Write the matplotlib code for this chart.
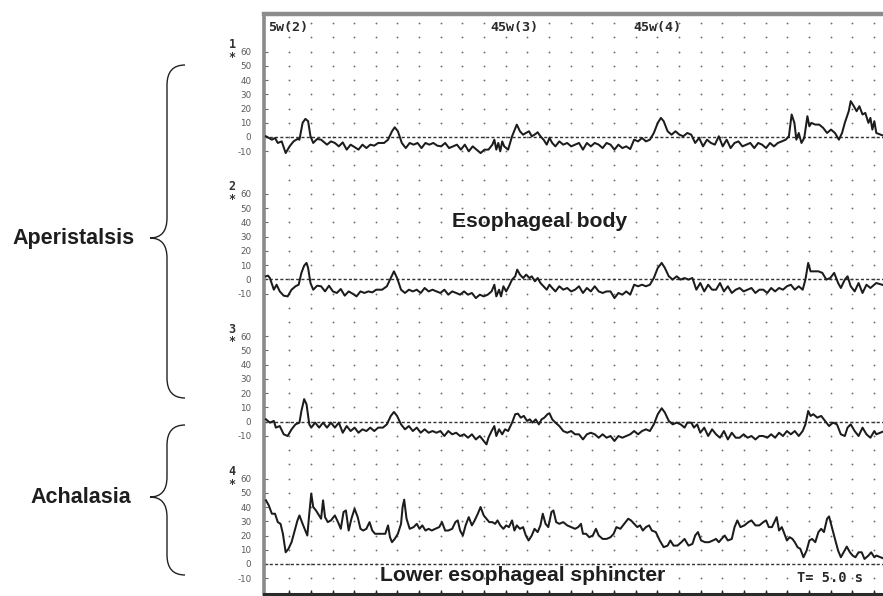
import numpy as np
import matplotlib
matplotlib.use("Agg")
import matplotlib.pyplot as plt
from matplotlib.path import Path
from matplotlib.patches import PathPatch
from matplotlib.transforms import blended_transform_factory

# ---------------- data (time in recorder units, pressure in mmHg) ----------------
t1 = [0, 1.5, 2.3, 3.0, 4.0, 5.0, 6.0, 7.0, 8.0, 8.5, 9.3, 10.0, 10.7, 11.3, 12.0, 13.0, 14.0, 14.5,
      15.5, 16.5, 17.5, 18.5, 19.5, 20.5, 21.5, 22.5, 23.5, 24.5, 25.5, 26.5, 27.5, 28.5, 30.0, 31.0,
      32.0, 32.7, 33.5, 34.5, 35.5, 36.5, 37.5, 38.5, 39.5, 40.5, 41.5, 42.5, 43.5, 44.5, 45.5, 46.5,
      47.5, 48.5, 49.5, 50.5, 51.5, 52.5, 53.5, 54.5, 55.5, 56.5, 57.5, 58.0, 58.5, 59.0, 59.5, 60.0,
      60.5, 61.5, 62.5, 63.0, 63.7, 64.5, 65.3, 66.0, 66.8, 67.5, 68.2, 69.0, 69.7, 70.5, 71.3, 72.0,
      72.7, 73.5, 74.5, 75.5, 76.5, 77.5, 78.5, 79.5, 80.5, 81.5, 82.5, 83.5, 84.5, 85.5, 86.5, 87.5,
      88.5, 89.5, 90.5, 91.5, 92.5, 93.5, 94.5, 95.5, 96.5, 97.5, 98.5, 99.5, 100.3, 101.0, 102.0,
      103.0, 104.0, 105.0, 106.0, 107.0, 108.0, 109.0, 110.0, 111.0, 112.0, 113.0, 114.0, 115.0,
      116.0, 117.0, 118.0, 119.0, 120.0, 121.0, 122.0, 123.0, 124.0, 125.0, 126.0, 127.0, 128.0,
      129.0, 130.0, 131.0, 132.0, 132.8, 133.5, 134.2, 134.7, 135.3, 136.0, 136.7, 137.5, 138.0,
      138.5, 139.5, 140.5, 141.5, 142.5, 143.5, 144.5, 145.5, 146.3, 147.0, 148.0, 148.5, 149.3,
      150.0, 150.7, 151.5, 152.2, 153.0, 153.5, 154.0, 154.5, 155.0, 156.7]
p1 = [0.5, -1.9, -0.7, -4.2, -3.1, -11.3, -6.6, -3.1, -1.4, -1.9, 9.9, 12.7, 11.1, 0.5, -4.2, -1.4,
      -1.9, -3.1, -5.4, -3.1, -4.2, -6.6, -3.8, -8.9, -5.4, -7.1, -8.9, -5.4, -7.8, -5.4, -6.1, -4.2,
      -4.2, -1.9, 4.0, 6.8, 4.0, -4.2, -7.8, -4.2, -5.4, -4.2, -7.8, -4.2, -5.4, -4.2, -6.1, -6.6,
      -4.2, -7.8, -6.6, -5.4, -8.9, -5.4, -10.1, -6.6, -8.9, -11.3, -8.9, -8.9, -5.4, -1.9, -8.9,
      -4.2, -10.1, -3.1, -6.6, -8.9, 0.5, 4.0, 8.7, 4.0, 1.6, 2.8, 4.0, 0.5, 1.6, 3.3, 0.5, -1.9,
      -5.4, -0.7, -4.2, -6.6, -3.1, -5.4, -4.2, -6.6, -5.4, -4.2, -8.9, -4.2, -6.6, -4.2, -5.4, -7.8,
      -4.2, -5.4, -8.9, -5.4, -7.8, -6.6, -8.5, -1.9, -3.1, -0.7, -3.1, -1.9, 2.8, 9.9, 13.4, 11.1,
      4.0, 1.6, 4.0, 1.6, 0.5, 2.8, 1.6, -4.2, -0.7, -6.6, -1.9, -4.2, -5.4, 0.5, -6.6, -1.9, -7.8,
      -4.2, -3.1, -6.6, -5.4, -4.2, -7.8, -4.2, -5.4, -7.8, -4.2, -6.6, -4.2, -3.1, -1.9, 0.5, 15.8,
      9.9, -1.9, 2.8, -4.2, -0.7, 14.6, 7.5, 9.9, 8.7, 8.7, 6.4, 2.8, 5.2, 2.8, -1.9, 2.8, 9.9, 18.1,
      25.2, 21.6, 18.1, 21.6, 15.8, 16.9, 9.9, 13.4, 5.2, 11.1, 2.8, 1.0]

t2 = [0, 0.5, 1.0, 2.0, 2.7, 3.5, 4.5, 5.5, 6.5, 7.5, 8.3, 9.0, 9.7, 10.3, 10.7, 11.3, 12.0, 13.0,
      14.0, 15.0, 16.0, 17.0, 18.0, 19.0, 20.0, 21.0, 22.0, 23.0, 24.0, 25.0, 26.0, 27.0, 28.0, 29.5,
      30.7, 31.7, 32.5, 33.3, 34.3, 35.3, 36.3, 37.3, 38.3, 39.3, 40.3, 41.3, 42.3, 43.3, 44.3, 45.3,
      46.3, 47.3, 48.3, 49.3, 50.3, 51.3, 52.3, 53.3, 54.3, 55.3, 56.3, 57.3, 58.0, 58.5, 59.2, 59.7,
      60.3, 61.0, 61.7, 62.5, 63.3, 63.8, 64.5, 65.3, 66.1, 66.9, 67.5, 68.3, 69.0, 69.7, 70.5, 71.3,
      72.0, 72.7, 73.5, 74.5, 75.5, 76.5, 77.5, 78.5, 79.5, 80.5, 81.5, 82.5, 83.5, 84.5, 85.5, 86.5,
      87.5, 88.5, 89.5, 90.5, 91.5, 92.5, 93.5, 94.5, 95.5, 96.5, 97.5, 98.5, 99.5, 100.5, 101.3,
      102.3, 103.3, 104.3, 105.3, 106.3, 107.3, 108.3, 109.3, 110.3, 111.3, 112.3, 113.3, 114.3,
      115.3, 116.3, 117.3, 118.3, 119.3, 120.3, 121.3, 122.3, 123.3, 124.3, 125.3, 126.3, 127.3,
      128.3, 129.3, 130.3, 131.3, 132.3, 133.3, 134.3, 135.3, 136.3, 137.0, 137.7, 138.3, 139.3,
      140.3, 141.3, 142.3, 143.3, 144.3, 145.3, 146.0, 147.0, 147.7, 148.5, 149.5, 150.5, 151.5,
      152.5, 153.5, 154.5, 155.0, 156.7]
p2 = [2.1, 2.6, 0.9, -7.3, -3.8, -8.5, -11.5, -12.0, -7.3, -4.9, -3.8, 4.5, 9.6, 11.5, 8.0, -2.6,
      -7.3, -4.5, -4.9, -8.5, -4.5, -8.5, -9.6, -6.8, -11.5, -8.5, -10.1, -12.0, -8.5, -9.6, -8.5,
      -9.2, -7.3, -7.3, -4.9, 0.9, 5.6, 0.9, -7.3, -9.6, -7.3, -8.5, -7.3, -9.6, -6.1, -8.5, -7.3,
      -8.5, -9.6, -7.3, -10.8, -8.5, -9.6, -10.8, -8.5, -10.8, -9.6, -13.2, -10.8, -12.0, -10.8, -8.5,
      -3.8, -12.0, -7.3, -12.0, -4.9, -8.5, -4.9, -0.2, 2.1, 6.8, 3.3, 0.9, 3.3, 0.9, 2.1, -1.4, 0.9,
      -2.6, -4.9, -7.3, -3.8, -6.1, -8.5, -4.9, -7.3, -6.1, -8.5, -7.3, -4.9, -9.6, -6.1, -8.5, -4.9,
      -8.5, -9.6, -8.5, -8.5, -13.2, -9.6, -10.8, -8.5, -10.8, -3.8, -4.9, -3.8, -4.9, -3.8, 0.9, 8.0,
      11.5, 8.0, 2.1, -0.2, 2.1, -0.2, 0.9, -0.2, 0.9, -7.3, -2.6, -8.5, -3.8, -7.3, -7.3, -2.6,
      -8.5, -4.9, -9.6, -7.3, -6.1, -8.5, -7.3, -6.1, -9.6, -7.3, -7.3, -9.6, -6.1, -8.5, -6.1, -7.3,
      -4.9, -3.8, -7.3, -4.9, -7.3, -0.2, 11.5, 5.6, 5.6, 5.6, 4.5, -0.2, 0.9, 4.5, -2.6, -6.1, -0.2,
      2.1, -4.9, -8.5, -2.6, -9.6, -3.8, -6.1, -3.8, -2.6, -4.0]

t3 = [0, 1.0, 2.0, 2.5, 3.5, 4.5, 5.5, 6.5, 7.5, 8.5, 9.0, 9.7, 10.3, 11.0, 11.5, 12.5, 13.5, 14.5,
      15.5, 16.5, 17.5, 18.5, 19.5, 20.5, 21.5, 22.5, 23.5, 24.5, 25.5, 26.5, 27.5, 28.5, 29.7, 30.7,
      31.7, 32.5, 33.3, 34.3, 35.3, 36.3, 37.3, 38.3, 39.3, 40.3, 41.3, 42.3, 43.3, 44.3, 45.3, 46.3,
      47.3, 48.3, 49.3, 50.3, 51.3, 52.3, 53.3, 54.3, 55.3, 56.0, 56.5, 57.3, 58.0, 58.5, 59.2, 60.0,
      60.7, 61.5, 62.5, 63.3, 64.0, 64.7, 65.5, 66.3, 67.0, 67.7, 68.5, 69.3, 70.0, 70.7, 71.5, 72.0,
      72.7, 73.5, 74.5, 75.5, 76.5, 77.5, 78.5, 79.5, 80.5, 81.5, 82.5, 83.5, 84.5, 85.5, 86.5, 87.5,
      88.5, 89.5, 90.5, 91.5, 92.5, 93.5, 94.5, 95.5, 96.5, 97.5, 98.5, 99.5, 100.5, 101.3, 102.3,
      103.3, 104.3, 105.3, 106.3, 107.0, 108.0, 108.7, 109.5, 110.3, 111.3, 112.3, 113.3, 114.3,
      115.3, 116.3, 117.3, 118.3, 119.3, 120.3, 121.3, 122.3, 123.3, 124.3, 125.3, 126.3, 127.3,
      128.3, 129.3, 130.3, 131.3, 132.3, 133.3, 134.3, 135.3, 136.3, 137.0, 137.7, 138.3, 139.0,
      140.0, 141.0, 142.0, 143.0, 144.0, 145.0, 146.0, 147.0, 147.7, 148.5, 149.5, 150.5, 151.5,
      152.5, 153.5, 154.5, 155.0, 156.7]
p3 = [1.6, -0.7, 0.5, -4.2, -3.1, -8.9, -10.1, -5.4, -1.9, -0.7, 7.5, 15.8, 12.2, -1.9, -4.2, -0.7,
      -4.2, -0.7, -4.2, -0.7, -4.2, -0.7, -7.8, -3.1, -6.6, -4.2, -7.8, -5.4, -6.6, -4.2, -6.6, -4.2,
      -4.2, -1.9, 4.0, 6.8, 4.0, -1.9, -5.4, -3.1, -6.6, -4.2, -7.8, -5.4, -7.8, -6.6, -7.8, -6.6,
      -10.1, -6.6, -8.9, -7.8, -10.1, -8.9, -11.3, -8.9, -12.5, -10.1, -13.6, -16.0, -11.3, -6.6,
      -3.1, -10.1, -5.4, -8.9, -5.4, -6.6, -0.7, 5.2, 5.6, 2.8, 4.0, 0.5, 1.6, -0.7, 1.6, -1.9, 1.6,
      2.8, 5.2, 5.9, 1.6, -0.7, -3.1, -6.6, -7.8, -6.6, -8.9, -8.9, -12.5, -8.9, -7.8, -8.9, -11.3,
      -8.9, -11.3, -10.1, -13.6, -10.1, -11.3, -10.1, -8.9, -6.6, -8.9, -6.6, -5.4, -6.6, -1.9, 5.2,
      9.4, 6.4, 0.5, -1.9, -0.7, -1.9, -4.2, -0.7, -0.7, -4.2, -1.9, -7.8, -4.2, -10.1, -5.4, -8.9,
      -11.3, -6.6, -12.5, -7.8, -11.3, -11.3, -8.9, -11.3, -10.1, -12.5, -10.1, -10.1, -11.3, -8.9,
      -11.3, -7.8, -10.1, -6.6, -8.9, -6.6, -10.1, -6.6, -1.9, 7.5, 4.0, 5.2, 2.8, 4.0, 0.5, -3.1,
      -0.7, -1.9, -8.9, -10.1, -4.2, -1.9, -6.6, -10.1, -4.2, -8.9, -11.3, -6.6, -8.9, -7.0]

t4 = [0, 0.7, 1.5, 2.3, 3.0, 3.7, 4.3, 5.0, 5.7, 6.5, 7.3, 8.0, 8.5, 9.3, 10.0, 10.5, 11.0, 11.5,
      12.0, 12.7, 13.5, 14.0, 14.5, 15.0, 15.7, 16.5, 17.5, 18.3, 19.0, 19.7, 20.3, 21.0, 21.7, 22.5,
      23.3, 24.0, 24.7, 25.5, 26.3, 27.0, 27.7, 28.5, 29.5, 30.3, 31.0, 31.5, 32.0, 32.7, 33.5, 34.3,
      34.7, 35.1, 35.7, 36.5, 37.5, 38.3, 39.0, 39.7, 40.5, 41.3, 42.1, 43.0, 44.0, 44.7, 45.5, 46.3,
      47.3, 48.1, 48.7, 49.3, 50.0, 50.7, 51.5, 52.3, 53.0, 53.8, 54.5, 55.3, 56.0, 56.7, 57.5, 58.2,
      58.8, 59.5, 60.3, 61.0, 61.7, 62.5, 63.1, 63.7, 64.5, 65.3, 66.0, 66.7, 67.5, 68.2, 69.0, 69.7,
      70.3, 71.0, 71.7, 72.5, 73.0, 73.7, 74.5, 75.5, 76.5, 77.5, 78.5, 79.3, 80.0, 80.5, 81.3, 82.1,
      83.0, 83.8, 84.5, 85.5, 86.5, 87.5, 88.3, 89.0, 90.0, 91.0, 92.0, 92.7, 93.5, 94.3, 95.0, 95.7,
      96.5, 97.3, 98.0, 99.0, 100.0, 101.0, 102.0, 102.7, 103.5, 104.5, 105.5, 106.3, 107.3, 108.3,
      109.0, 109.7, 110.5, 111.5, 112.5, 113.5, 114.3, 115.0, 115.7, 116.5, 117.3, 118.3, 119.0,
      119.7, 120.5, 121.5, 122.5, 123.3, 124.3, 125.3, 126.3, 127.0, 127.7, 128.5, 129.3, 129.7,
      130.3, 131.0, 131.5, 132.3, 133.0, 133.7, 134.3, 135.0, 135.7, 136.5, 137.3, 138.0, 138.7,
      139.5, 140.3, 141.0, 141.7, 142.5, 143.0, 143.7, 144.5, 145.3, 146.0, 146.7, 147.5, 148.3,
      149.0, 149.7, 150.5, 151.3, 152.0, 153.0, 153.7, 154.5, 155.0, 156.7]
p4 = [44.7, 41.2, 35.3, 35.3, 29.4, 28.2, 21.2, 8.2, 10.6, 15.3, 23.5, 30.6, 34.1, 28.2, 23.5, 20.0,
      35.3, 49.4, 40.0, 37.6, 34.1, 31.8, 44.7, 32.9, 29.4, 30.6, 34.1, 29.4, 24.7, 36.5, 37.6, 23.5,
      31.8, 38.8, 32.9, 24.7, 23.5, 24.7, 29.4, 23.5, 21.2, 21.2, 21.2, 21.2, 27.1, 18.8, 15.3, 17.6,
      21.2, 28.2, 40.0, 45.2, 31.8, 24.7, 25.9, 28.2, 24.7, 27.1, 23.5, 24.7, 23.5, 24.7, 25.9, 29.4,
      23.5, 23.5, 24.7, 29.4, 30.6, 23.5, 20.0, 27.1, 32.9, 27.1, 30.6, 35.3, 40.0, 34.1, 31.8, 29.4,
      29.4, 28.2, 30.6, 27.1, 24.7, 27.1, 25.9, 30.6, 23.5, 27.1, 24.7, 25.9, 20.0, 16.5, 20.0, 24.7,
      22.4, 27.1, 35.3, 28.2, 25.9, 36.5, 37.6, 29.4, 28.2, 29.4, 27.1, 25.9, 24.7, 25.9, 28.2, 21.2,
      21.2, 18.8, 20.0, 24.7, 20.0, 17.6, 17.6, 18.8, 21.2, 25.9, 24.7, 28.2, 31.8, 30.6, 28.2, 25.9,
      27.1, 23.5, 25.9, 27.1, 23.5, 22.4, 16.5, 11.8, 12.9, 16.5, 12.9, 12.9, 15.3, 17.6, 12.9, 14.1,
      20.0, 22.4, 16.5, 15.3, 15.3, 16.5, 17.6, 15.3, 17.6, 20.0, 16.5, 17.6, 25.9, 30.6, 25.9, 27.1,
      29.4, 30.6, 27.1, 27.1, 29.4, 30.6, 25.9, 25.9, 30.6, 32.9, 23.5, 25.9, 22.4, 16.5, 18.8, 17.6,
      15.3, 11.8, 10.6, 4.7, 9.4, 16.5, 17.6, 15.3, 22.4, 24.7, 22.4, 31.8, 33.4, 25.9, 17.6, 9.4,
      4.7, 8.2, 12.2, 8.2, 5.9, 4.7, 8.2, 8.2, 3.5, 5.9, 8.2, 4.7, 5.9, 4.0]

channel_names = ["1", "2", "3", "4"]
channel_offsets = [0, -100, -200, -300]
tick_values = [60, 50, 40, 30, 20, 10, 0, -10]
top_labels = ["5w(2)", "45w(3)", "45w(4)"]
times = [t1, t2, t3, t4]
pressures = [p1, p2, p3, p4]

# ---------------- figure ----------------
W, H = 883, 596
fig = plt.figure(figsize=(W / 100, H / 100), dpi=100)
fig.patch.set_facecolor("white")


def fx(px):
    return px / W


def fy(py):
    return 1 - py / H


ax = fig.add_axes([fx(264), fy(594), fx(883) - fx(264), fy(14) - fy(594)])
ax.set_xlim(-0.5, 156.7)
ax.set_ylim(-321.1, 86.4)

# dotted grid
gx = np.arange(5.9, 156.7, 5.5)
gy = np.arange(-320, 81, 10)
GX, GY = np.meshgrid(gx, gy)
ax.scatter(GX.ravel(), GY.ravel(), s=1.8, color="#707070", linewidths=0, zorder=1)

# baselines and traces
for t, p, off in zip(times, pressures, channel_offsets):
    ax.axhline(off, color="#333333", lw=1.0, ls=(0, (2.2, 1.6)), zorder=2)
    ax.plot(t, np.array(p) + off, color="#1c1c1c", lw=1.45, zorder=3,
            solid_joinstyle="round")

# y ticks per channel
yt, yl = [], []
for off in channel_offsets:
    for v in tick_values:
        yt.append(off + v)
        yl.append(str(v))
ax.set_yticks(yt)
ax.set_yticklabels(yl, family=["Liberation Sans Narrow", "DejaVu Sans"], fontsize=6.3,
                   color="#5a5a5a")
ax.tick_params(axis="y", direction="in", length=3, width=0.8, color="#666666", pad=9)

ax.set_xticks(gx)
ax.set_xticklabels([])
ax.tick_params(axis="x", direction="in", length=3, width=1.0, color="#222222")

ax.spines["right"].set_visible(False)
ax.spines["left"].set_color("#8a8a8a")
ax.spines["left"].set_linewidth(2.6)
ax.spines["top"].set_color("#8c8c8c")
ax.spines["top"].set_linewidth(3.2)
ax.spines["bottom"].set_color("#2a2a2a")
ax.spines["bottom"].set_linewidth(2.2)

# channel numbers
tr = blended_transform_factory(fig.transFigure, ax.transData)
for name, off in zip(channel_names, channel_offsets):
    ax.text(fx(232), off + 65, name, transform=tr, ha="center", va="center",
            fontsize=8.5, fontweight="bold", family="DejaVu Sans Mono", color="#333333")
    ax.text(fx(232), off + 56, "*", transform=tr, ha="center", va="center",
            fontsize=8.5, fontweight="bold", family="DejaVu Sans Mono", color="#333333")

# top event labels
mono = dict(fontweight="bold", family="DejaVu Sans Mono", color="#2a2a2a")
for lab, px in zip(top_labels, [268, 490, 633]):
    fig.text(fx(px), fy(31), lab, ha="left", va="baseline", fontsize=9.6, **mono)

fig.text(fx(797), fy(582), "T= 5.0 s", ha="left", va="baseline", fontsize=9.8, **mono)

bold = dict(fontweight="bold", family=["Liberation Sans", "DejaVu Sans"], color="#1e1e1e")
fig.text(fx(540), fy(227), "Esophageal body", ha="center", va="baseline", fontsize=15.2, **bold)
fig.text(fx(523), fy(581), "Lower esophageal sphincter", ha="center", va="baseline",
         fontsize=15.2, **bold)
fig.text(fx(74), fy(244), "Aperistalsis", ha="center", va="baseline", fontsize=15.5, **bold)
fig.text(fx(81), fy(503), "Achalasia", ha="center", va="baseline", fontsize=15.5, **bold)

# braces
ov = fig.add_axes([0, 0, 1, 1], facecolor="none")
ov.set_xlim(0, W)
ov.set_ylim(H, 0)
ov.axis("off")


def brace(y0, y1, ym, xe=185, xm=167, xt=150, r=20):
    verts = [(xe, y0), (xm, y0), (xm, y0 + r),
             (xm, ym - r),
             (xm, ym), (xt, ym),
             (xm, ym), (xm, ym + r),
             (xm, y1 - r),
             (xm, y1), (xe, y1)]
    codes = [Path.MOVETO, Path.CURVE3, Path.CURVE3,
             Path.LINETO,
             Path.CURVE3, Path.CURVE3,
             Path.CURVE3, Path.CURVE3,
             Path.LINETO,
             Path.CURVE3, Path.CURVE3]
    ov.add_patch(PathPatch(Path(verts, codes), fill=False, lw=1.0, edgecolor="#222222"))


brace(65, 398, 238)
brace(425, 575, 497)

fig.savefig("out.png", dpi=100, facecolor="white")
